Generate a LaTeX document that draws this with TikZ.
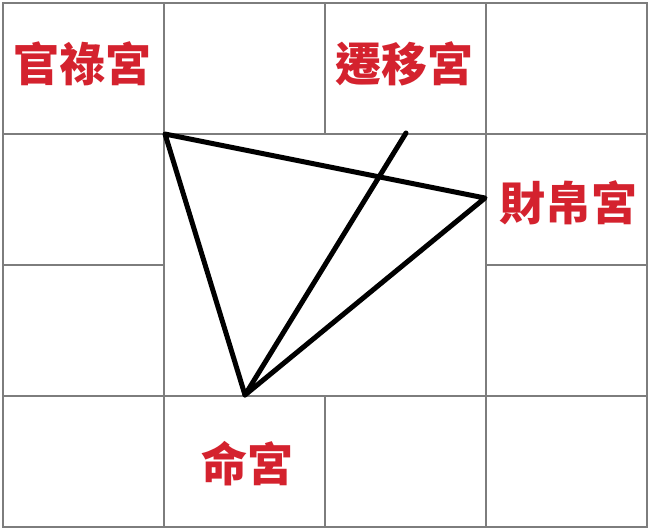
\documentclass[tikz,border=0pt]{standalone}
\usepackage{fontspec}
\newfontfamily\cjk{Noto Sans CJK TC}
\usepackage{tikz}
\usetikzlibrary{calc,positioning}
\definecolor{palacered}{RGB}{212,34,46}
\definecolor{gridgray}{RGB}{125,125,125}

\begin{document}
\begin{tikzpicture}[x=1pt,y=-1pt]
\tikzset{
    cell line/.style={
       draw = gridgray,
       line width = 1.2pt
    },
   palace/.style={
     text = palacered,
     font = \cjk\bfseries\fontsize{46}{46}\selectfont,
     inner sep = 0pt
   },
   link/.style={
     draw = black,
     line width = 5pt,
     line cap = round,
     line join = round
   }
}
%
\useasboundingbox[fill=white] (0,0) rectangle (650,530);

% outer ring of cells
\draw[cell line] (3,3) rectangle (647,527);
\draw[cell line] (3,134) -- (647,134);
\draw[cell line] (3,396) -- (647,396);
\draw[cell line] (3,265) -- (164,265);
\draw[cell line] (486,265) -- (647,265);
\draw[cell line] (164,3) -- (164,527);
\draw[cell line] (486,3) -- (486,527);
\draw[cell line] (325,3) -- (325,134);
\draw[cell line] (325,396) -- (325,527);

% palace labels
\node[palace] (guanlu) at (82,64) {官祿宮};
\node[palace] (qianyi) at (404,64) {遷移宮};
\node[palace] (caibo) at (568,203) {財帛宮};
\node[palace] (ming) at (247,464) {命宮};

% corners of the triangle
\coordinate (guanluPt) at (165,134);
\coordinate (caiboPt) at (485,198);
\coordinate (mingPt) at (245,395);
\coordinate (qianyiPt) at (406,133);

\draw[link] (mingPt) -- (guanluPt) -- (caiboPt) -- cycle;
\draw[link] (mingPt) -- (qianyiPt);
\end{tikzpicture}
\end{document}
